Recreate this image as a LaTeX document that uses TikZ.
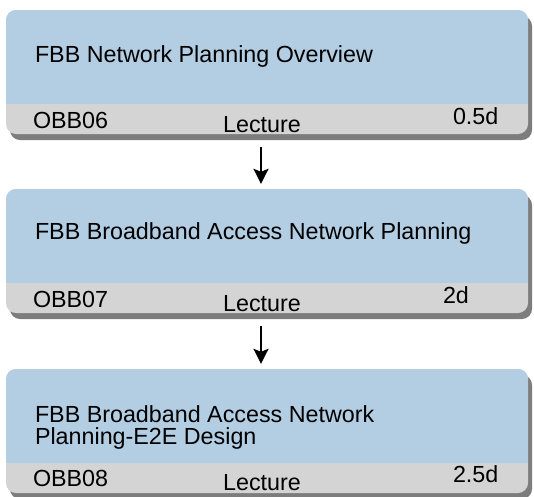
\documentclass[tikz,border=0pt]{standalone}
\usepackage{fontspec}
\setmainfont{Liberation Sans}
\usetikzlibrary{shadows,arrows.meta}
\definecolor{boxblue}{RGB}{179,206,227}
\definecolor{boxgrey}{RGB}{212,212,212}
\definecolor{shadowgrey}{RGB}{125,125,125}
\tikzset{
  course/.style={draw=none, rounded corners=10pt, minimum width=522pt, minimum height=124pt,
    inner sep=0pt, fill=boxgrey,
    drop shadow={shadow xshift=4pt, shadow yshift=-6pt, fill=shadowgrey, opacity=1},
    path picture={\fill[boxblue, sharp corners] (path picture bounding box.north west) rectangle ([yshift=30pt]path picture bounding box.south east);}},
  txt/.style={inner sep=0pt, font=\fontsize{23.3}{22}\selectfont, text=black},
  arr/.style={line width=2.4pt, -{Stealth[length=15pt,width=15pt,inset=3pt]}},
}
\begin{document}
\begin{tikzpicture}[x=1pt,y=-1pt]
\useasboundingbox (0,0) rectangle (534,496);
\node[course] (b1) at (267,72) {};
\node[course] (b2) at (267,251) {};
\node[course] (b3) at (267,431) {};

\node[txt, anchor=base west] (t1) at ([xshift=29pt,yshift=-53pt]b1.north west) {FBB Network Planning Overview};
\node[txt, anchor=base west] (c1) at ([xshift=27pt,yshift=6pt]b1.south west) {OBB06};
\node[txt, anchor=base] (l1) at ([xshift=-5pt,yshift=2pt]b1.south) {Lecture};
\node[txt, anchor=base west] (d1) at ([xshift=447pt,yshift=10pt]b1.south west) {0.5d};

\node[txt, anchor=base west] (t2) at ([xshift=29pt,yshift=-51pt]b2.north west) {FBB Broadband Access Network Planning};
\node[txt, anchor=base west] (c2) at ([xshift=27pt,yshift=6pt]b2.south west) {OBB07};
\node[txt, anchor=base] (l2) at ([xshift=-5pt,yshift=2pt]b2.south) {Lecture};
\node[txt, anchor=base west] (d2) at ([xshift=437pt,yshift=10pt]b2.south west) {2d};

\node[txt, anchor=base west, align=left] (t3) at ([xshift=29pt,yshift=-76pt]b3.north west) {FBB Broadband Access Network\\Planning-E2E Design};
\node[txt, anchor=base west] (c3) at ([xshift=27pt,yshift=7pt]b3.south west) {OBB08};
\node[txt, anchor=base] (l3) at ([xshift=-5pt,yshift=3pt]b3.south) {Lecture};
\node[txt, anchor=base west] (d3) at ([xshift=447pt,yshift=11pt]b3.south west) {2.5d};

\draw[arr, shorten <=13pt, shorten >=5pt] ([xshift=-6pt]b1.south) -- ([xshift=-6pt]b2.north);
\draw[arr, shorten <=13pt, shorten >=5pt] ([xshift=-6pt]b2.south) -- ([xshift=-6pt]b3.north);
\end{tikzpicture}
\end{document}
